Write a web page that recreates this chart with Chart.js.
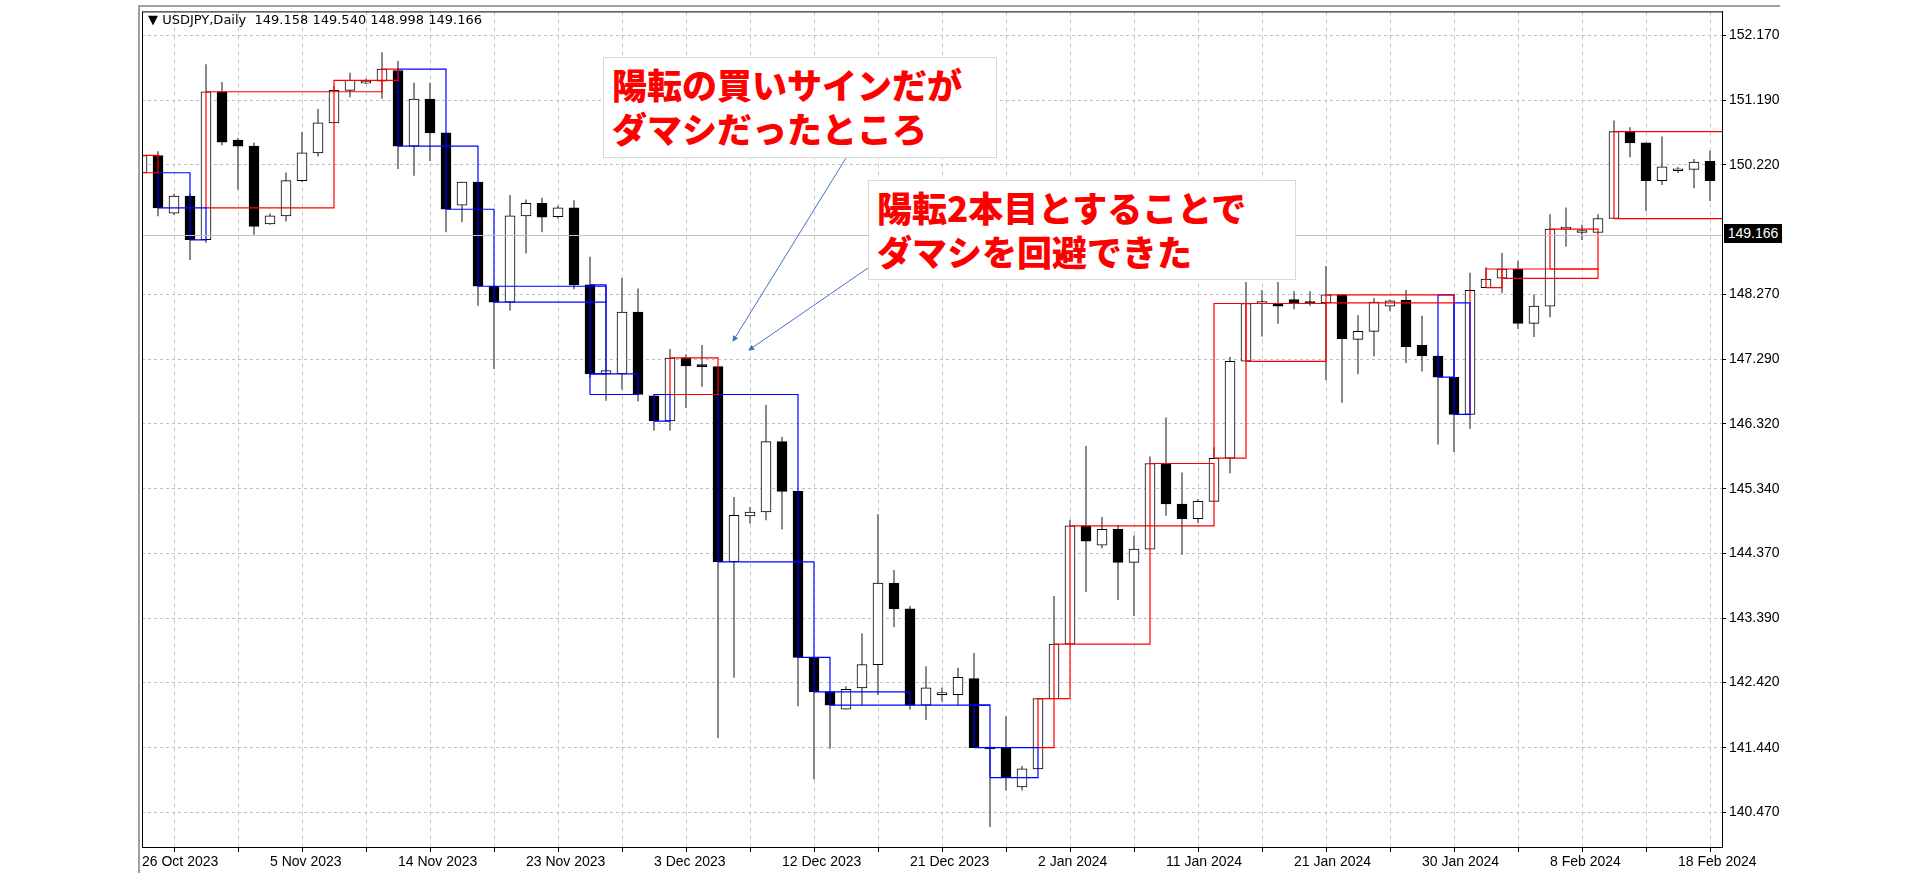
<!DOCTYPE html>
<html>
<head>
<meta charset="utf-8">
<script src="https://cdn.jsdelivr.net/npm/chart.js@4/dist/chart.umd.min.js"></script>
<style>
  html, body { margin: 0; padding: 0; background: #fff; }
  #wrap { position: relative; width: 1920px; height: 880px; }
  #c { position: absolute; left: 0; top: 0; }
  .note {
    position: absolute; background: #fff; border: 1px solid #d9d9d9;
    color: #ff0000; font-family: "Noto Sans CJK JP", sans-serif; font-weight: 900;
    font-size: 35px; line-height: 44px; padding: 4px 8px; box-sizing: border-box;
    white-space: nowrap;
  }
  #title {
    position: absolute; left: 148px; top: 12px; font-family: "DejaVu Sans", sans-serif;
    font-size: 13px; color: #000; white-space: pre;
  }
  #lastPrice {
    position: absolute; left: 1724px; top: 224px; width: 58px; height: 19px;
    background: #000; color: #fff; font-family: "Liberation Sans", sans-serif;
    font-size: 14px; line-height: 19px; text-align: center;
  }
  svg { position: absolute; left: 0; top: 0; pointer-events: none; }
</style>
</head>
<body>
<div id="wrap">
  <canvas id="c" width="1920" height="880"></canvas>
  <div id="title">▼ USDJPY,Daily  149.158 149.540 148.998 149.166</div>
  <div class="note" style="left:603px;top:57px;width:394px;height:101px;">陽転の買いサインだが<br>ダマシだったところ</div>
  <div class="note" style="left:868px;top:180px;width:428px;height:100px;">陽転2本目とすることで<br>ダマシを回避できた</div>
  <div id="lastPrice">149.166</div>
  <svg width="1920" height="880">
    <defs>
      <marker id="ah" markerWidth="6" markerHeight="6" refX="5" refY="3" orient="auto">
        <path d="M0,0 L6,3 L0,6 z" fill="#4472c4"/>
      </marker>
    </defs>
    <line x1="846" y1="158" x2="733" y2="341" stroke="#4472c4" stroke-width="1" marker-end="url(#ah)"/>
    <line x1="868" y1="268" x2="749" y2="350" stroke="#4472c4" stroke-width="1" marker-end="url(#ah)"/>
  </svg>
</div>
<script>
// daily USDJPY bars, index 0 = 26 Oct 2023
const opens = [
  150.10,150.36,149.49,149.75,149.09,151.32,150.59,150.50,149.33,149.45,
  149.98,150.40,150.85,151.34,151.45,151.48,151.64,150.50,151.21,150.70,
  149.61,149.96,148.39,148.15,149.45,149.64,149.44,149.57,148.41,147.07,
  147.07,148.00,146.74,146.36,147.31,147.19,147.18,144.24,144.93,144.99,
  146.05,145.30,142.80,142.28,142.02,142.34,142.69,143.92,143.53,142.08,
  142.24,142.24,142.48,141.44,141.44,140.85,141.12,142.18,143.00,144.78,
  144.49,144.73,144.23,144.43,145.72,145.11,144.89,145.15,145.80,147.26,
  148.13,148.13,148.19,148.14,148.14,148.26,147.59,147.71,148.09,148.18,
  147.50,147.34,147.02,146.46,148.37,148.51,148.65,147.83,148.09,149.25,
  149.20,149.20,149.41,150.72,150.55,149.98,150.13,150.15,150.27
];
const highs = [
  150.78,150.42,149.78,149.78,151.73,151.46,150.62,150.55,149.48,150.10,
  150.71,151.06,151.40,151.60,151.51,151.91,151.78,151.45,151.45,150.70,
  149.96,149.96,148.39,149.76,149.69,149.72,149.60,149.68,148.83,148.17,
  148.51,148.35,146.74,147.44,147.36,147.50,147.18,145.21,145.06,146.60,
  146.12,145.30,142.80,142.28,142.36,143.16,144.95,144.11,143.57,142.66,
  142.34,142.64,142.86,141.44,141.91,141.16,142.18,143.72,144.87,145.98,
  144.91,144.79,144.63,145.82,146.41,145.58,145.18,145.96,147.32,148.45,
  148.33,148.45,148.31,148.31,148.69,148.26,147.95,148.21,148.18,148.33,
  147.94,147.34,147.02,148.59,148.67,148.89,148.77,148.26,149.47,149.57,
  149.31,149.47,150.88,150.78,150.55,150.64,150.18,150.30,150.43
];
const lows = [
  149.82,149.45,149.47,148.79,149.05,150.52,149.85,149.17,149.32,149.37,
  149.97,150.35,150.85,151.24,151.44,151.22,150.16,150.06,150.28,149.21,
  149.36,148.10,147.15,148.03,148.89,149.21,149.41,148.35,147.02,146.67,
  146.84,146.66,146.22,146.22,146.56,146.88,141.59,142.50,144.82,144.87,
  144.73,142.07,140.97,141.43,142.02,142.08,142.24,143.26,142.02,141.86,
  142.14,142.08,141.44,140.25,140.80,140.80,141.12,142.18,143.00,143.79,
  144.45,143.67,143.43,144.43,144.94,144.35,144.83,145.15,145.58,147.26,
  147.64,147.83,148.05,148.10,146.98,146.64,147.07,147.34,148.02,147.24,
  147.11,146.01,145.90,146.25,148.37,148.29,147.75,147.63,147.93,148.99,
  149.09,149.20,149.41,150.34,149.53,149.92,150.10,149.87,149.68
];
const closes = [
  150.36,149.57,149.75,149.09,151.32,150.56,150.50,149.29,149.45,149.98,
  150.40,150.85,151.34,151.49,151.48,151.66,150.50,151.21,150.70,149.55,
  149.96,148.39,148.15,149.45,149.64,149.43,149.57,148.41,147.07,147.12,
  148.00,146.76,146.36,147.31,147.19,147.18,144.24,144.94,144.99,146.05,
  145.30,142.80,142.28,142.08,142.32,142.69,143.92,143.53,142.08,142.34,
  142.25,142.50,141.44,141.42,140.99,141.12,142.18,143.00,144.78,144.55,
  144.73,144.23,144.43,145.72,145.11,144.89,145.15,145.80,147.26,148.13,
  148.14,148.09,148.13,148.13,148.26,147.60,147.71,148.15,148.17,147.48,
  147.34,147.02,146.46,148.33,148.50,148.65,147.83,148.09,149.25,149.26,
  149.21,149.41,150.72,150.55,149.98,150.19,150.14,150.26,149.98
];
const lastPrice = 149.166;

// date labels every 8 bars
const dateLabels = [
  "26 Oct 2023","5 Nov 2023","14 Nov 2023","23 Nov 2023","3 Dec 2023","12 Dec 2023",
  "21 Dec 2023","2 Jan 2024","11 Jan 2024","21 Jan 2024","30 Jan 2024","8 Feb 2024","18 Feb 2024"
];
const priceTicks = [140.47,141.44,142.42,143.39,144.37,145.34,146.32,147.29,148.27,150.22,151.19,152.17];

// line-break style boxes: start bar, end bar, top, bottom, direction
const boxStart = [0,1,3,4,12,15,16,19,21,22,28,28,32,33,36,41,42,43,48,52,53,56,57,58,63,67,69,74,81,82,83,84,85,88,92];
const boxEnd   = [1,3,4,12,15,16,19,21,22,29,29,31,33,36,41,42,43,48,53,53,56,57,58,63,67,69,74,82,82,83,83,85,91,91,99];
const boxTop   = [150.36,150.10,149.57,151.32,151.49,151.66,151.66,150.50,149.55,148.39,148.41,147.07,146.76,147.31,146.76,144.24,142.80,142.28,142.08,142.08,141.44,142.18,143.00,144.78,145.72,148.13,148.13,148.26,148.26,148.14,148.33,148.65,148.65,149.25,150.72];
const boxBot   = [150.10,149.57,149.09,149.57,151.32,151.49,150.50,149.55,148.39,148.15,147.07,146.76,146.36,146.76,144.24,142.80,142.28,142.08,142.08,141.44,140.99,141.44,142.18,143.00,144.78,145.80,147.26,148.14,147.02,146.46,146.46,148.37,148.51,148.65,149.41];
const boxDir   = ["up","down","down","up","up","up","down","down","down","down","down","down","down","up","down","down","down","down","down","down","down","up","up","up","up","up","up","up","down","down","up","up","up","up","up"];

const bodies = opens.map((o, i) => ({ x: i, y: [o, closes[i]] }));
const wicks = opens.map((o, i) => ({ x: i, y: [lows[i], highs[i]] }));
const isUp = i => closes[i] >= opens[i];

const boxSets = boxStart.map((s, k) => ({
  type: "line",
  data: [
    { x: s, y: boxBot[k] }, { x: s, y: boxTop[k] }, { x: boxEnd[k], y: boxTop[k] },
    { x: boxEnd[k], y: boxBot[k] }, { x: s, y: boxBot[k] }
  ],
  borderColor: boxDir[k] === "up" ? "#ff0000" : "#0000ff",
  borderWidth: 1.2,
  pointRadius: 0,
  tension: 0,
  order: 0
}));

const frame = {
  id: "frame",
  beforeDraw(chart) {
    const c = chart.ctx;
    c.save();
    c.strokeStyle = "#a0a0a0";
    c.lineWidth = 2;
    c.beginPath();
    c.moveTo(139, 873); c.lineTo(139, 6); c.lineTo(1780, 6);
    c.stroke();
    c.restore();
  },
  afterDatasetsDraw(chart) {
    const { ctx: c, chartArea: a, scales } = chart;
    const y = Math.round(scales.y.getPixelForValue(lastPrice)) + 0.5;
    c.save();
    c.strokeStyle = "#c0c0c0";
    c.lineWidth = 1;
    c.beginPath(); c.moveTo(a.left, y); c.lineTo(a.right, y); c.stroke();
    c.strokeStyle = "#000";
    c.strokeRect(a.left + 0.5, a.top + 0.5, a.right - a.left, a.bottom - a.top);
    c.restore();
  }
};

new Chart(document.getElementById("c"), {
  data: {
    datasets: [
      ...boxSets,
      {
        type: "bar",
        data: bodies,
        backgroundColor: ctx => isUp(ctx.dataIndex) ? "#ffffff" : "#000000",
        borderColor: "#000000",
        borderWidth: 1,
        borderSkipped: false,
        barThickness: 10,
        minBarLength: 2,
        grouped: false,
        order: 1
      },
      {
        type: "bar",
        data: wicks,
        backgroundColor: "#707070",
        barThickness: 1,
        grouped: false,
        order: 2
      }
    ]
  },
  plugins: [frame],
  options: {
    responsive: false,
    animation: false,
    layout: { padding: { left: 142, right: 138, top: 10, bottom: 3 } },
    plugins: { legend: { display: false }, tooltip: { enabled: false } },
    scales: {
      x: {
        type: "linear",
        offset: false,
        min: 0,
        max: 98.75,
        afterBuildTicks: axis => {
          axis.ticks = [];
          for (let i = 0; i <= 96; i += 4) axis.ticks.push({ value: i });
        },
        afterFit: axis => { axis.height = 30; },
        grid: { color: "#c8c8c8", drawTicks: true, tickLength: 5, tickColor: "#000" },
        border: { display: true, color: "#000", dash: [4, 4] },
        ticks: {
          autoSkip: false,
          maxRotation: 0,
          align: "start",
          padding: 2,
          color: "#000",
          font: { family: "Liberation Sans", size: 14 },
          callback: v => (v % 8 === 0 ? dateLabels[v / 8] : "")
        }
      },
      y: {
        position: "right",
        min: 139.944,
        max: 152.53,
        afterBuildTicks: axis => {
          axis.ticks = priceTicks.map(v => ({ value: v }));
        },
        afterFit: axis => { axis.width = 60; },
        grid: { color: "#c0c0c0", tickLength: 4, tickColor: "#000" },
        border: { display: true, color: "#000", dash: [3, 3] },
        ticks: {
          color: "#000",
          padding: 3,
          font: { family: "Liberation Sans", size: 14 },
          callback: v => v.toFixed(3)
        }
      }
    }
  }
});
</script>
</body>
</html>
